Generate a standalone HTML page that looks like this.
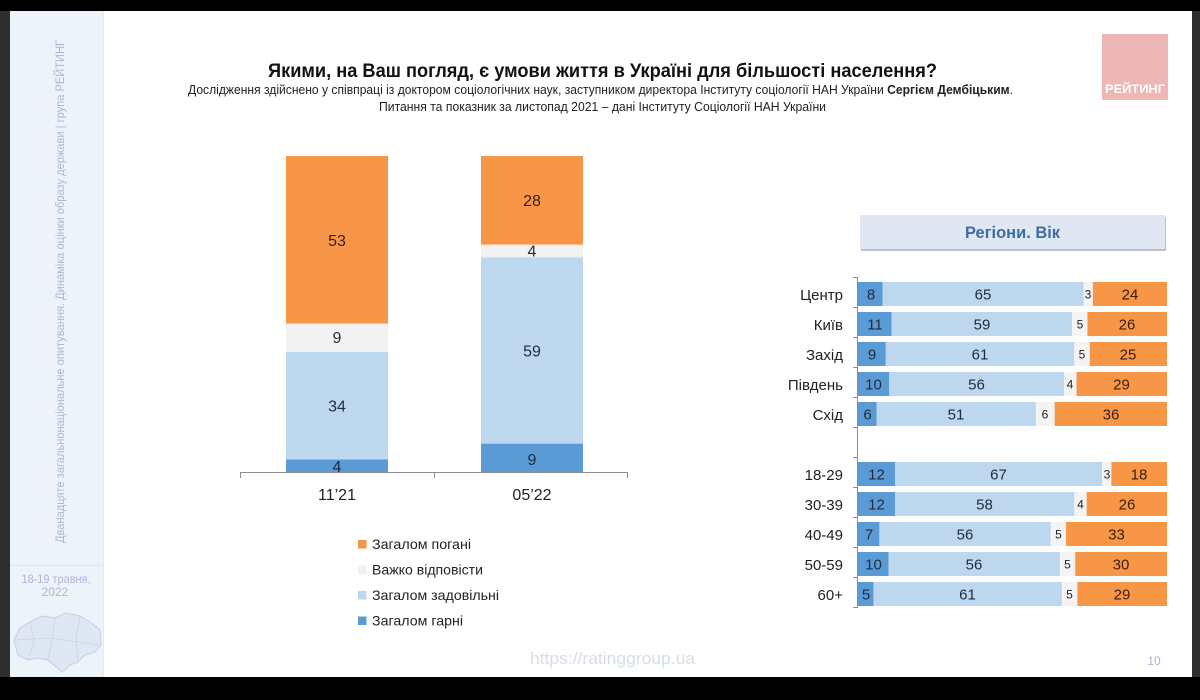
<!DOCTYPE html>
<html>
<head>
<meta charset="utf-8">
<style>
html,body{margin:0;padding:0;background:#000;}
svg{display:block;}
text{font-family:"Liberation Sans","DejaVu Sans",sans-serif;}
</style>
</head>
<body>
<svg width="1200" height="700" viewBox="0 0 1200 700" xmlns="http://www.w3.org/2000/svg">
  <!-- frame -->
  <rect x="0" y="0" width="1200" height="700" fill="#000"/>
  <rect x="0" y="11" width="10" height="666" fill="#2e2e2e"/>
  <rect x="1192" y="11" width="8" height="666" fill="#2e2e2e"/>
  <rect x="10" y="11" width="1182" height="666" fill="#ffffff"/>

  <!-- sidebar -->
  <rect x="10" y="11" width="93" height="666" fill="#eef2f9"/>
  <line x1="103.5" y1="11" x2="103.5" y2="677" stroke="#e3e9f3" stroke-width="1"/>
  <line x1="10" y1="565.5" x2="103" y2="565.5" stroke="#dce3ee" stroke-width="1"/>
  <text transform="translate(64,291.5) rotate(-90)" text-anchor="middle" font-size="12" fill="#a9b9d6" textLength="503" lengthAdjust="spacingAndGlyphs">Дванадцяте загальнонаціональне опитування. Динаміка оцінки образу держави | група РЕЙТИНГ</text>
  <text x="56" y="583" text-anchor="middle" font-size="12" fill="#a9b9d6" textLength="69" lengthAdjust="spacingAndGlyphs">18-19 травня,</text>
  <text x="55" y="596" text-anchor="middle" font-size="12" fill="#a9b9d6">2022</text>
  <!-- map -->
  <polygon points="14,640 20,628 30,622 42,616 55,618 66,613 80,616 90,622 100,630 101,645 95,652 85,655 78,662 70,665 62,672 55,666 48,660 38,658 28,660 18,655" fill="#dfe7f4" stroke="#c2cfe5" stroke-width="1"/>
  <polyline points="30,622 34,640 28,660" fill="none" stroke="#c8d4e8" stroke-width="0.8"/>
  <polyline points="55,618 52,640 48,660" fill="none" stroke="#c8d4e8" stroke-width="0.8"/>
  <polyline points="80,616 76,638 78,662" fill="none" stroke="#c8d4e8" stroke-width="0.8"/>
  <polyline points="14,640 50,638 100,645" fill="none" stroke="#c8d4e8" stroke-width="0.8"/>

  <!-- title -->
  <text x="268" y="77" font-size="19" font-weight="bold" fill="#111" textLength="669" lengthAdjust="spacingAndGlyphs">Якими, на Ваш погляд, є умови життя в Україні для більшості населення?</text>
  <text x="188" y="94" font-size="12.5" fill="#222" textLength="825" lengthAdjust="spacingAndGlyphs">Дослідження здійснено у співпраці із доктором соціологічних наук, заступником директора Інституту соціології НАН України <tspan font-weight="bold">Сергієм Дембіцьким</tspan>.</text>
  <text x="379" y="111" font-size="12.5" fill="#222" textLength="447" lengthAdjust="spacingAndGlyphs">Питання та показник за листопад 2021 – дані Інституту Соціології НАН України</text>

  <!-- logo -->
  <rect x="1102" y="34" width="66" height="66" fill="#efb6b6"/>
  <text x="1135" y="93" text-anchor="middle" font-size="11.5" font-weight="bold" fill="#ffffff" textLength="60" lengthAdjust="spacingAndGlyphs">РЕЙТИНГ</text>

  <!-- left stacked chart -->
  <g>
    <!-- 11'21 -->
    <rect x="286" y="459.4" width="102" height="12.6" fill="#5b9bd5"/>
    <rect x="286" y="352" width="102" height="107.4" fill="#bdd7ee"/>
    <rect x="286" y="323.6" width="102" height="28.4" fill="#f2f2f2"/>
    <rect x="286" y="156" width="102" height="167.6" fill="#f79646"/>
    <!-- 05'22 -->
    <rect x="481" y="443.6" width="102" height="28.4" fill="#5b9bd5"/>
    <rect x="481" y="257.2" width="102" height="186.4" fill="#bdd7ee"/>
    <rect x="481" y="244.6" width="102" height="12.6" fill="#f2f2f2"/>
    <rect x="481" y="156" width="102" height="88.6" fill="#f79646"/>

    <g font-size="16" text-anchor="middle">
      <text x="337" y="246" fill="#3a1e0c">53</text>
      <text x="337" y="343" fill="#1f2b3c">9</text>
      <text x="337" y="411.5" fill="#1f2b3c">34</text>
      <text x="337" y="472" fill="#1f2b3c">4</text>
      <text x="532" y="206" fill="#3a1e0c">28</text>
      <text x="532" y="256.5" fill="#1f2b3c">4</text>
      <text x="532" y="356.5" fill="#1f2b3c">59</text>
      <text x="532" y="465" fill="#1f2b3c">9</text>
    </g>

    <line x1="240" y1="472.5" x2="628" y2="472.5" stroke="#8c8c8c" stroke-width="1"/>
    <line x1="240.5" y1="472" x2="240.5" y2="478" stroke="#8c8c8c" stroke-width="1"/>
    <line x1="434.5" y1="472" x2="434.5" y2="478" stroke="#8c8c8c" stroke-width="1"/>
    <line x1="627.5" y1="472" x2="627.5" y2="478" stroke="#8c8c8c" stroke-width="1"/>

    <text x="337" y="500" text-anchor="middle" font-size="16" fill="#222">11’21</text>
    <text x="532" y="500" text-anchor="middle" font-size="16" fill="#222">05’22</text>

    <!-- legend -->
    <rect x="358" y="540" width="8.5" height="8.5" fill="#f79646"/>
    <rect x="358" y="565.5" width="8.5" height="8.5" fill="#f2f2f2"/>
    <rect x="358" y="591" width="8.5" height="8.5" fill="#bdd7ee"/>
    <rect x="358" y="616.5" width="8.5" height="8.5" fill="#5b9bd5"/>
    <g font-size="14" fill="#222">
      <text x="372" y="549" textLength="99" lengthAdjust="spacingAndGlyphs">Загалом погані</text>
      <text x="372" y="574.5" textLength="111" lengthAdjust="spacingAndGlyphs">Важко відповісти</text>
      <text x="372" y="600" textLength="127" lengthAdjust="spacingAndGlyphs">Загалом задовільні</text>
      <text x="372" y="625.5" textLength="91" lengthAdjust="spacingAndGlyphs">Загалом гарні</text>
    </g>
  </g>

  <!-- Регіони. Вік header -->
  <rect x="861" y="217" width="305" height="34" fill="#b9c0cc"/>
  <rect x="860" y="215" width="305" height="34" fill="#e1e6f3"/>
  <text x="1012.5" y="238" text-anchor="middle" font-size="16.5" font-weight="bold" fill="#3a6ea5" textLength="95" lengthAdjust="spacingAndGlyphs">Регіони. Вік</text>

  <!-- right chart axis -->
  <g stroke="#8c8c8c" stroke-width="1">
    <line x1="857.5" y1="277" x2="857.5" y2="608"/>
    <line x1="853" y1="277.5" x2="858" y2="277.5"/>
    <line x1="853" y1="307.5" x2="858" y2="307.5"/>
    <line x1="853" y1="337.5" x2="858" y2="337.5"/>
    <line x1="853" y1="367.5" x2="858" y2="367.5"/>
    <line x1="853" y1="397.5" x2="858" y2="397.5"/>
    <line x1="853" y1="427.5" x2="858" y2="427.5"/>
    <line x1="853" y1="457.5" x2="858" y2="457.5"/>
    <line x1="853" y1="487.5" x2="858" y2="487.5"/>
    <line x1="853" y1="517.5" x2="858" y2="517.5"/>
    <line x1="853" y1="547.5" x2="858" y2="547.5"/>
    <line x1="853" y1="577.5" x2="858" y2="577.5"/>
    <line x1="853" y1="607.5" x2="858" y2="607.5"/>
  </g>

  <!-- rows -->
  <g font-size="15" text-anchor="middle">
    <!-- Центр y=282 -->
    <text x="843" y="300" text-anchor="end" fill="#222">Центр</text>
    <rect x="858" y="282" width="24.72" height="24" fill="#5b9bd5"/>
    <rect x="882.72" y="282" width="200.85" height="24" fill="#bdd7ee"/>
    <rect x="1083.57" y="282" width="9.27" height="24" fill="#f4f4f4"/>
    <rect x="1092.84" y="282" width="74.16" height="24" fill="#f79646"/>
    <text x="871" y="299.5" fill="#1f2b3c">8</text>
    <text x="983" y="299.5" fill="#1f2b3c">65</text>
    <text x="1088" y="298.5" font-size="12" fill="#222">3</text>
    <text x="1130" y="299.5" fill="#3a1e0c">24</text>

    <!-- Київ y=312 -->
    <text x="843" y="330" text-anchor="end" fill="#222">Київ</text>
    <rect x="858" y="312" width="33.65" height="24" fill="#5b9bd5"/>
    <rect x="891.65" y="312" width="180.5" height="24" fill="#bdd7ee"/>
    <rect x="1072.15" y="312" width="15.3" height="24" fill="#f4f4f4"/>
    <rect x="1087.45" y="312" width="79.55" height="24" fill="#f79646"/>
    <text x="875" y="329.5" fill="#1f2b3c">11</text>
    <text x="982" y="329.5" fill="#1f2b3c">59</text>
    <text x="1080" y="328.5" font-size="12" fill="#222">5</text>
    <text x="1127" y="329.5" fill="#3a1e0c">26</text>

    <!-- Захід y=342 -->
    <text x="843" y="360" text-anchor="end" fill="#222">Захід</text>
    <rect x="858" y="342" width="27.81" height="24" fill="#5b9bd5"/>
    <rect x="885.81" y="342" width="188.49" height="24" fill="#bdd7ee"/>
    <rect x="1074.3" y="342" width="15.45" height="24" fill="#f4f4f4"/>
    <rect x="1089.75" y="342" width="77.25" height="24" fill="#f79646"/>
    <text x="872" y="359.5" fill="#1f2b3c">9</text>
    <text x="980" y="359.5" fill="#1f2b3c">61</text>
    <text x="1082" y="358.5" font-size="12" fill="#222">5</text>
    <text x="1128" y="359.5" fill="#3a1e0c">25</text>

    <!-- Південь y=372 -->
    <text x="843" y="390" text-anchor="end" fill="#222">Південь</text>
    <rect x="858" y="372" width="31.21" height="24" fill="#5b9bd5"/>
    <rect x="889.21" y="372" width="174.79" height="24" fill="#bdd7ee"/>
    <rect x="1064" y="372" width="12.48" height="24" fill="#f4f4f4"/>
    <rect x="1076.48" y="372" width="90.52" height="24" fill="#f79646"/>
    <text x="873.5" y="389.5" fill="#1f2b3c">10</text>
    <text x="976.5" y="389.5" fill="#1f2b3c">56</text>
    <text x="1070" y="388.5" font-size="12" fill="#222">4</text>
    <text x="1121.5" y="389.5" fill="#3a1e0c">29</text>

    <!-- Схід y=402 -->
    <text x="843" y="420" text-anchor="end" fill="#222">Схід</text>
    <rect x="858" y="402" width="18.73" height="24" fill="#5b9bd5"/>
    <rect x="876.73" y="402" width="159.18" height="24" fill="#bdd7ee"/>
    <rect x="1035.91" y="402" width="18.73" height="24" fill="#f4f4f4"/>
    <rect x="1054.64" y="402" width="112.36" height="24" fill="#f79646"/>
    <text x="867.5" y="419.5" fill="#1f2b3c">6</text>
    <text x="956" y="419.5" fill="#1f2b3c">51</text>
    <text x="1045" y="418.5" font-size="12" fill="#222">6</text>
    <text x="1111" y="419.5" fill="#3a1e0c">36</text>

    <!-- 18-29 y=462 -->
    <text x="843" y="480" text-anchor="end" fill="#222">18-29</text>
    <rect x="858" y="462" width="37.08" height="24" fill="#5b9bd5"/>
    <rect x="895.08" y="462" width="207.03" height="24" fill="#bdd7ee"/>
    <rect x="1102.11" y="462" width="9.27" height="24" fill="#f4f4f4"/>
    <rect x="1111.38" y="462" width="55.62" height="24" fill="#f79646"/>
    <text x="876.5" y="479.5" fill="#1f2b3c">12</text>
    <text x="998.5" y="479.5" fill="#1f2b3c">67</text>
    <text x="1107" y="478.5" font-size="12" fill="#222">3</text>
    <text x="1139" y="479.5" fill="#3a1e0c">18</text>

    <!-- 30-39 y=492 -->
    <text x="843" y="510" text-anchor="end" fill="#222">30-39</text>
    <rect x="858" y="492" width="37.08" height="24" fill="#5b9bd5"/>
    <rect x="895.08" y="492" width="179.22" height="24" fill="#bdd7ee"/>
    <rect x="1074.3" y="492" width="12.36" height="24" fill="#f4f4f4"/>
    <rect x="1086.66" y="492" width="80.34" height="24" fill="#f79646"/>
    <text x="876.5" y="509.5" fill="#1f2b3c">12</text>
    <text x="984.5" y="509.5" fill="#1f2b3c">58</text>
    <text x="1080.5" y="508.5" font-size="12" fill="#222">4</text>
    <text x="1127" y="509.5" fill="#3a1e0c">26</text>

    <!-- 40-49 y=522 -->
    <text x="843" y="540" text-anchor="end" fill="#222">40-49</text>
    <rect x="858" y="522" width="21.42" height="24" fill="#5b9bd5"/>
    <rect x="879.42" y="522" width="171.33" height="24" fill="#bdd7ee"/>
    <rect x="1050.75" y="522" width="15.3" height="24" fill="#f4f4f4"/>
    <rect x="1066.05" y="522" width="100.95" height="24" fill="#f79646"/>
    <text x="869" y="539.5" fill="#1f2b3c">7</text>
    <text x="965" y="539.5" fill="#1f2b3c">56</text>
    <text x="1058.5" y="538.5" font-size="12" fill="#222">5</text>
    <text x="1116.5" y="539.5" fill="#3a1e0c">33</text>

    <!-- 50-59 y=552 -->
    <text x="843" y="570" text-anchor="end" fill="#222">50-59</text>
    <rect x="858" y="552" width="30.59" height="24" fill="#5b9bd5"/>
    <rect x="888.59" y="552" width="171.33" height="24" fill="#bdd7ee"/>
    <rect x="1059.92" y="552" width="15.3" height="24" fill="#f4f4f4"/>
    <rect x="1075.22" y="552" width="91.78" height="24" fill="#f79646"/>
    <text x="873.5" y="569.5" fill="#1f2b3c">10</text>
    <text x="974" y="569.5" fill="#1f2b3c">56</text>
    <text x="1067.5" y="568.5" font-size="12" fill="#222">5</text>
    <text x="1121" y="569.5" fill="#3a1e0c">30</text>

    <!-- 60+ y=582 -->
    <text x="843" y="600" text-anchor="end" fill="#222">60+</text>
    <rect x="858" y="582" width="15.45" height="24" fill="#5b9bd5"/>
    <rect x="873.45" y="582" width="188.49" height="24" fill="#bdd7ee"/>
    <rect x="1061.94" y="582" width="15.45" height="24" fill="#f4f4f4"/>
    <rect x="1077.39" y="582" width="89.61" height="24" fill="#f79646"/>
    <text x="866" y="599.5" fill="#1f2b3c">5</text>
    <text x="967.5" y="599.5" fill="#1f2b3c">61</text>
    <text x="1069.5" y="598.5" font-size="12" fill="#222">5</text>
    <text x="1122" y="599.5" fill="#3a1e0c">29</text>
  </g>

  <!-- footer -->
  <text x="530" y="664" font-size="17" fill="#d6dde9" textLength="165" lengthAdjust="spacingAndGlyphs">https://ratinggroup.ua</text>
  <text x="1154" y="665" text-anchor="middle" font-size="12" fill="#a3b3cb">10</text>
</svg>
</body>
</html>
